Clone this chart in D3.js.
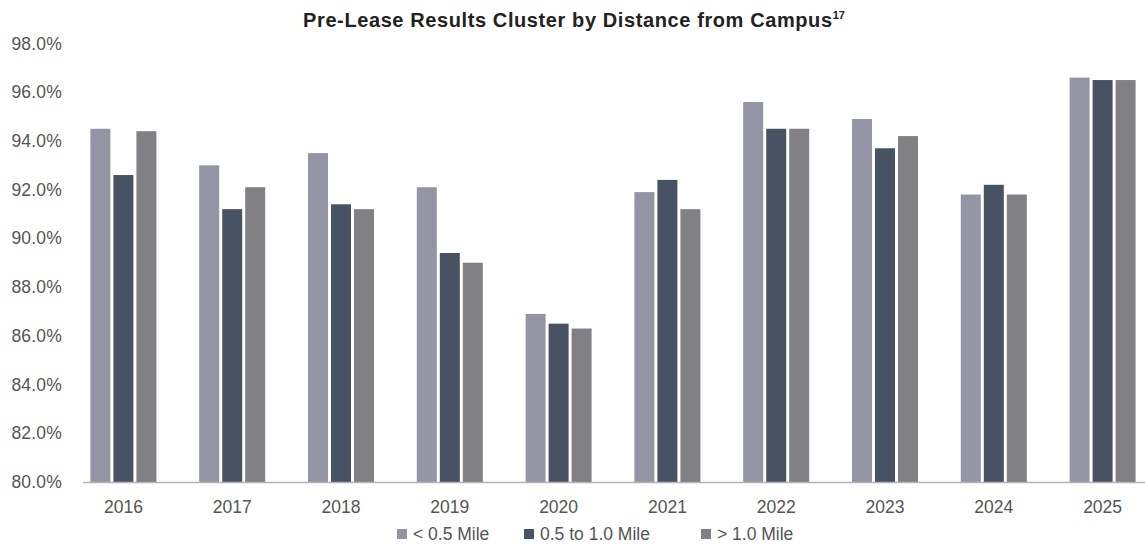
<!DOCTYPE html>
<html>
<head>
<meta charset="utf-8">
<script src="https://cdn.jsdelivr.net/npm/d3@7"></script>
<style>
  html, body { margin: 0; padding: 0; background: #fff; }
  svg { display: block; font-family: "Liberation Sans", Arial, Helvetica, sans-serif; }
</style>
</head>
<body>
<svg id="chart" width="1145" height="544"></svg>
<script>
const years = ["2016","2017","2018","2019","2020","2021","2022","2023","2024","2025"];
const seriesNames = ["< 0.5 Mile", "0.5 to 1.0 Mile", "> 1.0 Mile"];
const under05 = [94.5, 93.0, 93.5, 92.1, 86.9, 91.9, 95.6, 94.9, 91.8, 96.6];
const from05to10 = [92.6, 91.2, 91.4, 89.4, 86.5, 92.4, 94.5, 93.7, 92.2, 96.5];
const over10 = [94.4, 92.1, 91.2, 89.0, 86.3, 91.2, 94.5, 94.2, 91.8, 96.5];
const yTicks = [80, 82, 84, 86, 88, 90, 92, 94, 96, 98];
const colors = ["#9395a5", "#475263", "#818185"];

const seriesValues = [under05, from05to10, over10];
const svg = d3.select("#chart");

const y = d3.scaleLinear().domain([80, 98]).range([482, 43.5]);
const x0 = d3.scaleBand().domain(years).range([69, 1157]).padding(0);
const x1 = d3.scaleBand().domain(seriesNames).range([-33, 33]).paddingInner(3 / 23).paddingOuter(0);

// Title
const title = svg.append("text")
  .attr("x", 574).attr("y", 26.5)
  .attr("text-anchor", "middle")
  .attr("font-size", 20).attr("font-weight", "bold").attr("fill", "#222")
  .attr("letter-spacing", 0.6);
title.append("tspan").text("Pre-Lease Results Cluster by Distance from Campus");
title.append("tspan").attr("font-size", 11).attr("dy", -8).attr("letter-spacing", 0).text("17");

// Y axis labels
const yAxis = d3.axisLeft(y).tickValues(yTicks).tickSize(0).tickPadding(0)
  .tickFormat(d => d3.format(".1f")(d) + "%");
const yG = svg.append("g").attr("transform", "translate(62,0)").call(yAxis);
yG.select(".domain").remove();
yG.selectAll("text").attr("font-size", 17.5).attr("fill", "#555").attr("letter-spacing", 0.2)
  .attr("font-family", "'Liberation Sans', Arial, sans-serif");

// Bars
const groups = svg.append("g").selectAll("g")
  .data(years).join("g")
  .attr("transform", d => `translate(${x0(d) + x0.bandwidth() / 2},0)`);

groups.selectAll("rect")
  .data((d, i) => seriesNames.map((s, j) => ({ s, v: seriesValues[j][i], j })))
  .join("rect")
  .attr("x", d => x1(d.s))
  .attr("width", x1.bandwidth())
  .attr("y", d => y(d.v))
  .attr("height", d => y(80) - y(d.v))
  .attr("fill", d => colors[d.j]);

// X axis
const xAxis = d3.axisBottom(x0).tickSize(0).tickPadding(0);
const xG = svg.append("g").attr("transform", `translate(0,${y(80)})`).call(xAxis);
xG.select(".domain").remove();
xG.selectAll("text").attr("font-size", 17.5).attr("fill", "#555").attr("dy", "1.77em")
  .attr("font-family", "'Liberation Sans', Arial, sans-serif");
svg.append("line")
  .attr("x1", 83).attr("x2", 1145)
  .attr("y1", y(80) + 0.5).attr("y2", y(80) + 0.5)
  .attr("stroke", "#b3b3b3").attr("stroke-width", 1.5);

// Legend
const legendX = [397, 524, 701];
const leg = svg.append("g").selectAll("g").data(seriesNames).join("g")
  .attr("transform", (d, i) => `translate(${legendX[i]},529)`);
leg.append("rect").attr("width", 10).attr("height", 10).attr("fill", (d, i) => colors[i]);
leg.append("text").attr("x", 16).attr("y", 11)
  .attr("font-size", 17.5).attr("fill", "#555").text(d => d);
</script>
</body>
</html>
